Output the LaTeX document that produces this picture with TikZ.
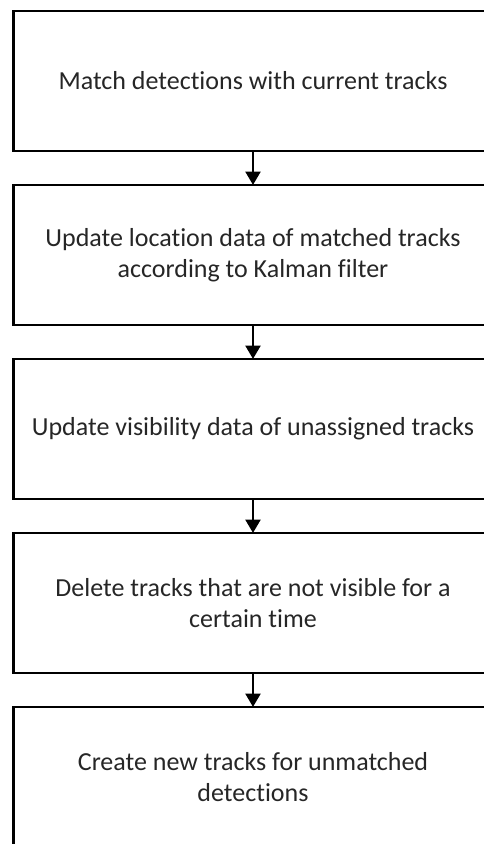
\documentclass[tikz,border=0pt]{standalone}
\usepackage{fontspec}
\setmainfont{Carlito}[Ligatures=NoCommon]
\usetikzlibrary{positioning,arrows.meta}

\begin{document}
\begin{tikzpicture}[x=0.75pt, y=-0.75pt, >={Triangle[length=10pt,width=11pt]},
	stepbox/.style={draw, line width=2.2pt, outer sep=0pt, minimum width=359pt,
		minimum height=105pt, align=center, text=black!85,
		font=\fontsize{19.5}{23.25}\selectfont},
	node distance=25.5pt]
	% Picture frame (boxes run past the right and bottom edge)
	\useasboundingbox (0,0) rectangle (484,844);
	\clip (0,0) rectangle (484,844);
	
	% The five steps
	\node[stepbox] (match) at (253,81) {Match detections with current tracks};
	\node[stepbox, below=of match] (location) {Update location data of matched tracks\\according to Kalman filter};
	\node[stepbox, below=of location] (visibility) {Update visibility data of unassigned tracks};
	\node[stepbox, below=of visibility] (delete) {Delete tracks that are not visible for a\\certain time};
	\node[stepbox, below=of delete] (create) {Create new tracks for unmatched\\detections};
	
	% Arrows between the steps
	\foreach \a/\b in {match/location, location/visibility, visibility/delete, delete/create} {
		\draw[->, line width=2.2pt] (\a) -- (\b);
	}
\end{tikzpicture}
\end{document}
